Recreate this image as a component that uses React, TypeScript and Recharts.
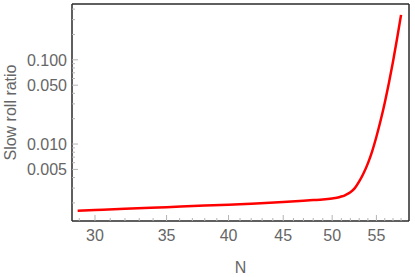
import { Line, LineChart, ReferenceLine, XAxis, YAxis } from "recharts";

// e-folds and slow roll ratio
const efolds = [28.9, 30, 32, 35, 38, 40, 42, 45, 47, 48, 49, 50, 50.5, 51, 51.5, 52, 52.5, 53, 53.5, 54, 54.5, 55, 55.5, 56, 56.5, 57, 57.5, 58];
const ratio = [0.00162, 0.00165, 0.0017, 0.00178, 0.00186, 0.0019, 0.00196, 0.00205, 0.00212, 0.00216, 0.0022, 0.00226, 0.0023, 0.00238, 0.0025, 0.00268, 0.003, 0.0036, 0.0045, 0.0059, 0.0082, 0.0122, 0.019, 0.031, 0.053, 0.095, 0.178, 0.342];

const xMajor = [30, 35, 40, 45, 50, 55];
const xMinor = [29, 31, 32, 33, 34, 36, 37, 38, 39, 41, 42, 43, 44, 46, 47, 48, 49, 51, 52, 53, 54, 56, 57, 58];
const yMajor = [0.005, 0.01, 0.05, 0.1];
const yMinor = [0.002, 0.003, 0.004, 0.006, 0.007, 0.008, 0.009, 0.02, 0.03, 0.04, 0.06, 0.07, 0.08, 0.09, 0.2, 0.3, 0.4];
const xDomain = [28.55, 59];
const yDomain = [0.00122, 0.46];

const data = efolds.map((n, i) => ({ n, r: ratio[i] }));
const xTicks = [...xMajor, ...xMinor].sort((a, b) => a - b);
const yTicks = [...yMajor, ...yMinor].sort((a, b) => a - b);

const TICK = "#b4b4b4";
const LABEL = "#666";
const FRAME = "#2a2a2a";
const FONT = "'Liberation Sans', Arial, sans-serif";
const FS = 16;

function XTick({ x, y, payload, isTop }: any) {
  const major = xMajor.includes(payload.value);
  const len = major ? 6 : 3;
  return (
    <g>
      <line x1={x} x2={x} y1={y} y2={isTop ? y + len : y - len} stroke={TICK} />
      {!isTop && major && (
        <text x={x} y={y + 20} textAnchor="middle" fill={LABEL} fontSize={FS} fontFamily={FONT}>
          {payload.value}
        </text>
      )}
    </g>
  );
}

function YTick({ x, y, payload, isRight }: any) {
  const major = yMajor.includes(payload.value);
  const len = major ? 6 : 3;
  return (
    <g>
      <line x1={x} x2={isRight ? x - len : x + len} y1={y} y2={y} stroke={TICK} />
      {!isRight && major && (
        <text x={x - 5} y={y + 6} textAnchor="end" fill={LABEL} fontSize={FS} fontFamily={FONT}>
          {payload.value.toFixed(3)}
        </text>
      )}
    </g>
  );
}

export default function App() {
  return (
    <div style={{ position: "absolute", left: 0, top: 0, background: "#fff" }}>
      <LineChart width={415} height={277} data={data} margin={{ top: 4, right: 6, left: 0, bottom: 0 }}>
        <XAxis
          dataKey="n"
          type="number"
          scale="log"
          domain={xDomain}
          ticks={xTicks}
          interval={0}
          tickSize={0}
          tickMargin={0}
          tick={<XTick />}
          height={56}
          stroke={FRAME}
          strokeWidth={1.5}
          label={{ value: "N", position: "insideBottom", offset: 4, fill: LABEL, fontSize: FS, fontFamily: FONT }}
        />
        <XAxis
          xAxisId="top"
          orientation="top"
          dataKey="n"
          type="number"
          scale="log"
          domain={xDomain}
          ticks={xTicks}
          interval={0}
          tickSize={0}
          tickMargin={0}
          tick={<XTick isTop />}
          height={0}
          axisLine={false}
        />
        <YAxis
          dataKey="r"
          type="number"
          scale="log"
          domain={yDomain}
          ticks={yTicks}
          interval={0}
          tickSize={0}
          tickMargin={0}
          tick={<YTick />}
          width={72}
          stroke={FRAME}
          strokeWidth={1.5}
          label={{
            value: "Slow roll ratio",
            angle: -90,
            position: "insideLeft",
            offset: 10,
            style: { textAnchor: "middle", fill: LABEL, fontSize: FS, fontFamily: FONT },
          }}
        />
        <YAxis
          yAxisId="right"
          orientation="right"
          dataKey="r"
          type="number"
          scale="log"
          domain={yDomain}
          ticks={yTicks}
          interval={0}
          tickSize={0}
          tickMargin={0}
          tick={<YTick isRight />}
          width={0}
          axisLine={false}
        />
        <Line
          xAxisId="top"
          yAxisId="right"
          dataKey="r"
          stroke="transparent"
          dot={false}
          legendType="none"
          isAnimationActive={false}
        />
        <ReferenceLine y={yDomain[1]} stroke={FRAME} strokeWidth={1.5} ifOverflow="visible" />
        <ReferenceLine x={xDomain[1]} stroke={FRAME} strokeWidth={1.5} ifOverflow="visible" />
        <Line
          dataKey="r"
          type="monotone"
          stroke="#ff0000"
          strokeWidth={2.5}
          dot={false}
          isAnimationActive={false}
        />
      </LineChart>
    </div>
  );
}
